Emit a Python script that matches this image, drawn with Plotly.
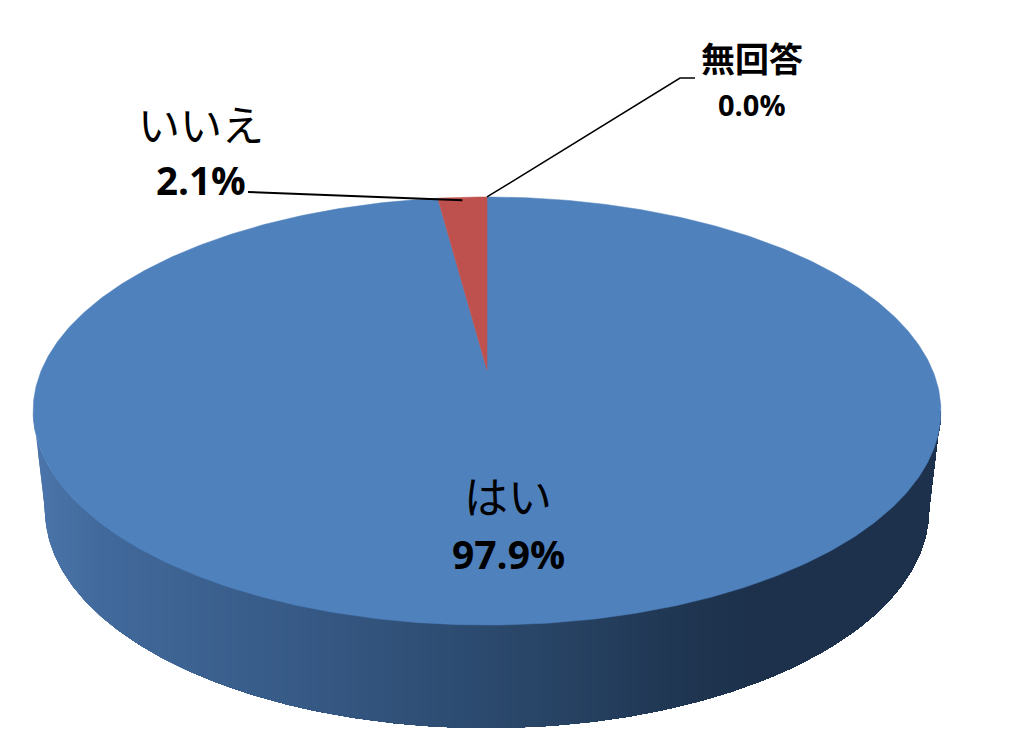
import numpy as np
import plotly.graph_objects as go

# chart data
labels = ["はい", "いいえ", "無回答"]
values = [97.9, 2.1, 0.0]
slice_colors = ["#4f81bd", "#be504d", "#9bbb59"]

# pie placement on the 1024x747 canvas
CX = 487
# top face is a circle seen in perspective
RX = 445.5
PERSP_A, PERSP_B, PERSP_C = 135.3, 370, -0.1916
# outlines used for the pie wall
TOP_RIM = (411, 454, 214)
BOTTOM_RIM = (510, 442, 218)

# wall shading from left to right
wall_x = [33, 100, 300, 487, 700, 760, 942]
wall_r = [76, 66, 55, 44, 31, 29, 29]
wall_g = [118, 106, 90, 74, 53, 49, 49]
wall_b = [172, 156, 134, 110, 80, 76, 76]


def top_face(frac):
    """Fraction of the pie (clockwise from 12 o'clock) to picture x, y."""
    t = 2 * np.pi * np.asarray(frac, dtype=float)
    u, v = np.sin(t), -np.cos(t)
    w = 1 + PERSP_C * v
    return CX + RX * u / w, (PERSP_A * v + PERSP_B) / w


def rim(phi, params):
    cy, rx, ry = params
    return CX + rx * np.cos(phi), cy + ry * np.sin(phi)


fig = go.Figure()

# outline of the wall as y against x
phis = np.linspace(np.pi, 0, 401)
top_x, top_y = rim(phis, TOP_RIM)
bot_x, bot_y = rim(phis, BOTTOM_RIM)
low_x = np.concatenate([[top_x[0]], bot_x, [top_x[-1]]])
low_y = np.concatenate([[top_y[0]], bot_y, [top_y[-1]]])

# pie wall: each band reaches to the right edge and the next one paints over it,
# that way no seams show between bands
band_edges = np.arange(top_x[0], top_x[-1], 5.0)
for x0 in band_edges:
    xs = np.concatenate([[x0], top_x[top_x > x0]])
    col = "rgb(%d,%d,%d)" % (np.interp(x0 + 2.5, wall_x, wall_r),
                             np.interp(x0 + 2.5, wall_x, wall_g),
                             np.interp(x0 + 2.5, wall_x, wall_b))
    up = np.interp(xs, top_x, top_y)
    down = np.interp(xs, low_x, low_y)
    fig.add_trace(go.Scatter(
        x=list(xs) + list(xs[::-1]), y=list(up) + list(down[::-1]), mode="lines",
        fill="toself", fillcolor=col, line=dict(width=0),
        hoverinfo="skip", showlegend=False))

# top face slices
total = sum(values)
fracs = np.cumsum([0] + values) / total
for i, name in enumerate(labels):
    if values[i] == 0:
        continue
    steps = max(int(values[i] * 6), 8)
    sx, sy = top_face(np.linspace(fracs[i], fracs[i + 1], steps))
    ox, oy = top_face(0)[0], PERSP_B
    fig.add_trace(go.Scatter(
        x=[ox] + list(sx) + [ox], y=[oy] + list(sy) + [oy], mode="lines",
        fill="toself", fillcolor=slice_colors[i],
        line=dict(color=slice_colors[i], width=0.5),
        name=name, showlegend=False, hoverinfo="name"))

# leader lines start at the slice they belong to
mid_no = top_face((fracs[1] + fracs[2]) / 2)
mid_na = top_face((fracs[2] + fracs[3]) / 2)
fig.add_trace(go.Scatter(x=[248, float(mid_no[0])], y=[192, float(mid_no[1]) + 3],
                         mode="lines", line=dict(color="#000000", width=2),
                         hoverinfo="skip", showlegend=False))
fig.add_trace(go.Scatter(x=[695, 680, float(mid_na[0])], y=[78, 78, float(mid_na[1])],
                         mode="lines", line=dict(color="#000000", width=1.5),
                         hoverinfo="skip", showlegend=False))

# name and share of each slice
name_pos = [(508, 495, 44), (201, 122, 42), (752, 57, 34)]
name_fmt = ["%s", "%s", "<b>%s</b>"]
share_pos = [(508, 553, 39), (201, 180, 38.5), (752, 104, 29)]
for i, name in enumerate(labels):
    nx, ny, ns = name_pos[i]
    fig.add_annotation(x=nx, y=ny, text=name_fmt[i] % name, showarrow=False,
                       font=dict(family="Noto Sans CJK JP", size=ns, color="#000000"))
    px, py, ps = share_pos[i]
    fig.add_annotation(x=px, y=py, text="<b>%.1f%%</b>" % values[i], showarrow=False,
                       font=dict(family="Open Sans", size=ps, color="#000000"))

fig.update_layout(
    width=1024, height=747,
    margin=dict(l=0, r=0, t=0, b=0),
    paper_bgcolor="white", plot_bgcolor="white",
    xaxis=dict(range=[0, 1024], visible=False, fixedrange=True),
    yaxis=dict(range=[747, 0], visible=False, fixedrange=True),
)

fig.write_html("out.html", config=dict(displayModeBar=False),
               post_script="document.body.style.margin='0';")
